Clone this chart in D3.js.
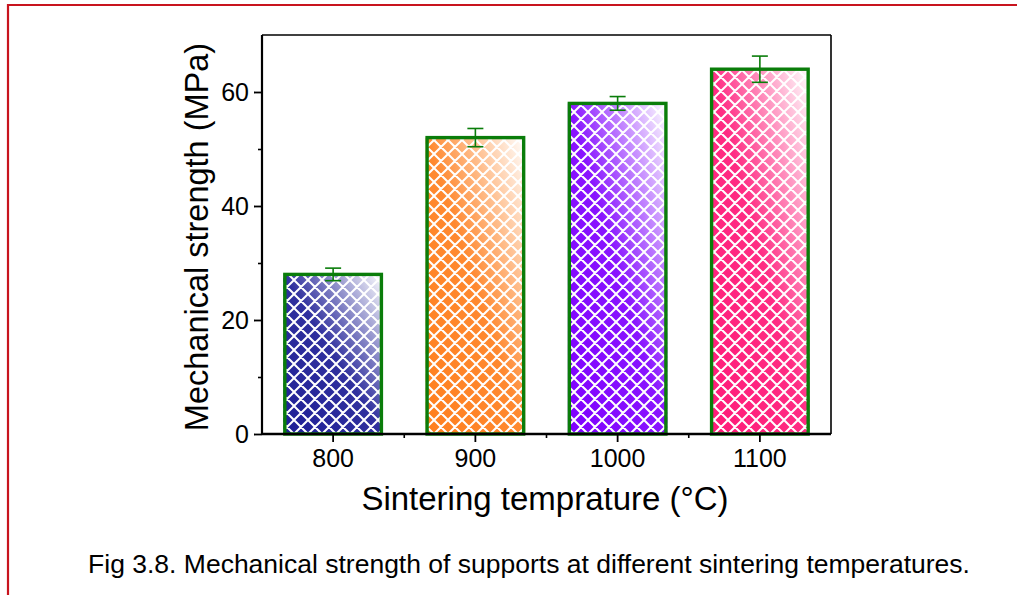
<!DOCTYPE html>
<html>
<head>
<meta charset="utf-8">
<script src="https://cdn.jsdelivr.net/npm/d3@7"></script>
<style>
  body { margin: 0; background: #fff; }
  svg { display: block; font-family: "Liberation Sans", Arial, sans-serif; }
</style>
</head>
<body>
<div id="chart"></div>
<script>
// data
var temps = ['800', '900', '1000', '1100'];
var strength = [28, 52, 58, 64];
var errors = [1.1, 1.6, 1.2, 2.3];
var bar_colors = ['#1e1e96', '#ff7f1e', '#7f00ff', '#ff1a78'];
var major_y = [0, 20, 40, 60];
var minor_y = [10, 30, 50];

var chart_width = 1017;
var chart_height = 595;

var plot = {left: 262, right: 831, top: 35, bottom: 434};

var svg = d3.select('#chart')
            .append('svg')
            .attr('width', chart_width)
            .attr('height', chart_height);

// red frame (top + left only)
svg.append('line')
    .attr('x1', 8).attr('x2', chart_width)
    .attr('y1', 5).attr('y2', 5)
    .attr('stroke', '#c8141e').attr('stroke-width', 2.2);
svg.append('line')
    .attr('x1', 8).attr('x2', 8)
    .attr('y1', 4).attr('y2', chart_height)
    .attr('stroke', '#c8141e').attr('stroke-width', 2.2);

var x = d3.scaleBand()
            .domain(temps)
            .range([plot.left, plot.right])
            .paddingInner(0.3)
            .paddingOuter(0.15);

var y = d3.scaleLinear()
            .domain([0, 70])
            .range([plot.bottom, plot.top]);

var defs = svg.append('defs');

// gradients, one per bar (bottom-left colour -> top-right white)
bar_colors.forEach((c, i) => {
    var g = defs.append('linearGradient')
        .attr('id', 'grad' + i)
        .attr('x1', 0).attr('y1', 1)
        .attr('x2', 1).attr('y2', 0);
    g.append('stop').attr('offset', '0%').attr('stop-color', c);
    g.append('stop').attr('offset', '50%').attr('stop-color', d3.interpolateRgb(c, '#fff')(0.08));
    g.append('stop').attr('offset', '100%').attr('stop-color', '#fff');
});

// white crosshatch
var pat = defs.append('pattern')
    .attr('id', 'hatch')
    .attr('patternUnits', 'userSpaceOnUse')
    .attr('width', 14).attr('height', 14);
pat.append('path')
    .attr('d', 'M0,0L14,14M14,0L0,14M-2,12L2,16M12,-2L16,2M-2,2L2,-2M12,16L16,12')
    .attr('stroke', '#fff')
    .attr('stroke-width', 2)
    .attr('fill', 'none');

var bars = svg.append('g').attr('id', 'bars');

bars.selectAll('rect.fill')
    .data(temps)
    .enter()
    .append('rect')
    .attr('class', 'fill')
    .attr('x', (d) => x(d))
    .attr('y', (d, i) => y(strength[i]))
    .attr('width', x.bandwidth())
    .attr('height', (d, i) => y(0) - y(strength[i]))
    .attr('fill', (d, i) => 'url(#grad' + i + ')');

bars.selectAll('rect.hatch')
    .data(temps)
    .enter()
    .append('rect')
    .attr('class', 'hatch')
    .attr('x', (d) => x(d))
    .attr('y', (d, i) => y(strength[i]))
    .attr('width', x.bandwidth())
    .attr('height', (d, i) => y(0) - y(strength[i]))
    .attr('fill', 'url(#hatch)');

bars.selectAll('rect.outline')
    .data(temps)
    .enter()
    .append('rect')
    .attr('class', 'outline')
    .attr('x', (d) => x(d) + 1.5)
    .attr('y', (d, i) => y(strength[i]))
    .attr('width', x.bandwidth() - 3)
    .attr('height', (d, i) => y(0) - y(strength[i]))
    .attr('fill', 'none')
    .attr('stroke', '#0a7d0a')
    .attr('stroke-width', 3.4);

// error bars
var err = svg.append('g')
    .attr('stroke', '#0a7d0a')
    .attr('stroke-width', 1.6);
temps.forEach((t, i) => {
    var cx = x(t) + x.bandwidth() / 2;
    var hi = y(strength[i] + errors[i]);
    var lo = y(strength[i] - errors[i]);
    err.append('line').attr('x1', cx).attr('x2', cx).attr('y1', hi).attr('y2', lo);
    err.append('line').attr('x1', cx - 8).attr('x2', cx + 8).attr('y1', hi).attr('y2', hi);
    err.append('line').attr('x1', cx - 8).attr('x2', cx + 8).attr('y1', lo).attr('y2', lo);
});

// frame lines top/right
svg.append('line')
    .attr('x1', plot.left).attr('x2', plot.right)
    .attr('y1', plot.top).attr('y2', plot.top)
    .attr('stroke', '#000').attr('stroke-width', 1.6);
svg.append('line')
    .attr('x1', plot.right).attr('x2', plot.right)
    .attr('y1', plot.top).attr('y2', plot.bottom)
    .attr('stroke', '#000').attr('stroke-width', 1.6);

// y axis
var y_axis = d3.axisLeft(y)
    .tickValues(major_y)
    .tickSize(8)
    .tickPadding(5);
var y_minor = d3.axisLeft(y)
    .tickValues(minor_y)
    .tickSize(4)
    .tickFormat('');

svg.append('g')
    .attr('transform', 'translate(' + plot.left + ',0)')
    .call(y_minor)
    .call((g) => g.select('.domain').remove())
    .selectAll('line').attr('stroke-width', 1.6);

var gy = svg.append('g')
    .attr('transform', 'translate(' + plot.left + ',0)')
    .call(y_axis);
gy.select('.domain').attr('stroke-width', 2.2).attr('d', 'M0,' + plot.top + 'V' + plot.bottom);
gy.selectAll('line').attr('stroke-width', 1.8);
gy.selectAll('text').attr('font-size', 25).attr('font-family', null).attr('fill', '#000');

// x axis
var x_axis = d3.axisBottom(x)
    .tickSize(8)
    .tickPadding(7)
    .tickSizeOuter(0);
var gx = svg.append('g')
    .attr('transform', 'translate(0,' + plot.bottom + ')')
    .call(x_axis);
gx.select('.domain').attr('stroke-width', 2.6).attr('d', 'M' + plot.left + ',0H' + plot.right);
gx.selectAll('line').attr('stroke-width', 1.8);
gx.selectAll('text').attr('font-size', 25).attr('font-family', null).attr('fill', '#000');

// minor x ticks between categories
gx.selectAll('line.minor')
    .data(temps.slice(1))
    .enter()
    .append('line')
    .attr('class', 'minor')
    .attr('x1', (d) => x(d) - x.step() * x.paddingInner() / 2)
    .attr('x2', (d) => x(d) - x.step() * x.paddingInner() / 2)
    .attr('y1', 0).attr('y2', 4)
    .attr('stroke', '#000').attr('stroke-width', 1.6);

// titles
svg.append('text')
    .attr('x', 545)
    .attr('y', 510)
    .attr('text-anchor', 'middle')
    .attr('font-size', 33)
    .text('Sintering temprature (°C)');

svg.append('text')
    .attr('transform', 'translate(208,237) rotate(-90)')
    .attr('text-anchor', 'middle')
    .attr('font-size', 32.5)
    .text('Mechanical strength (MPa)');

svg.append('text')
    .attr('x', 529)
    .attr('y', 573)
    .attr('text-anchor', 'middle')
    .attr('font-size', 26.5)
    .text('Fig 3.8. Mechanical strength of supports at different sintering temperatures.');
</script>
</body>
</html>
